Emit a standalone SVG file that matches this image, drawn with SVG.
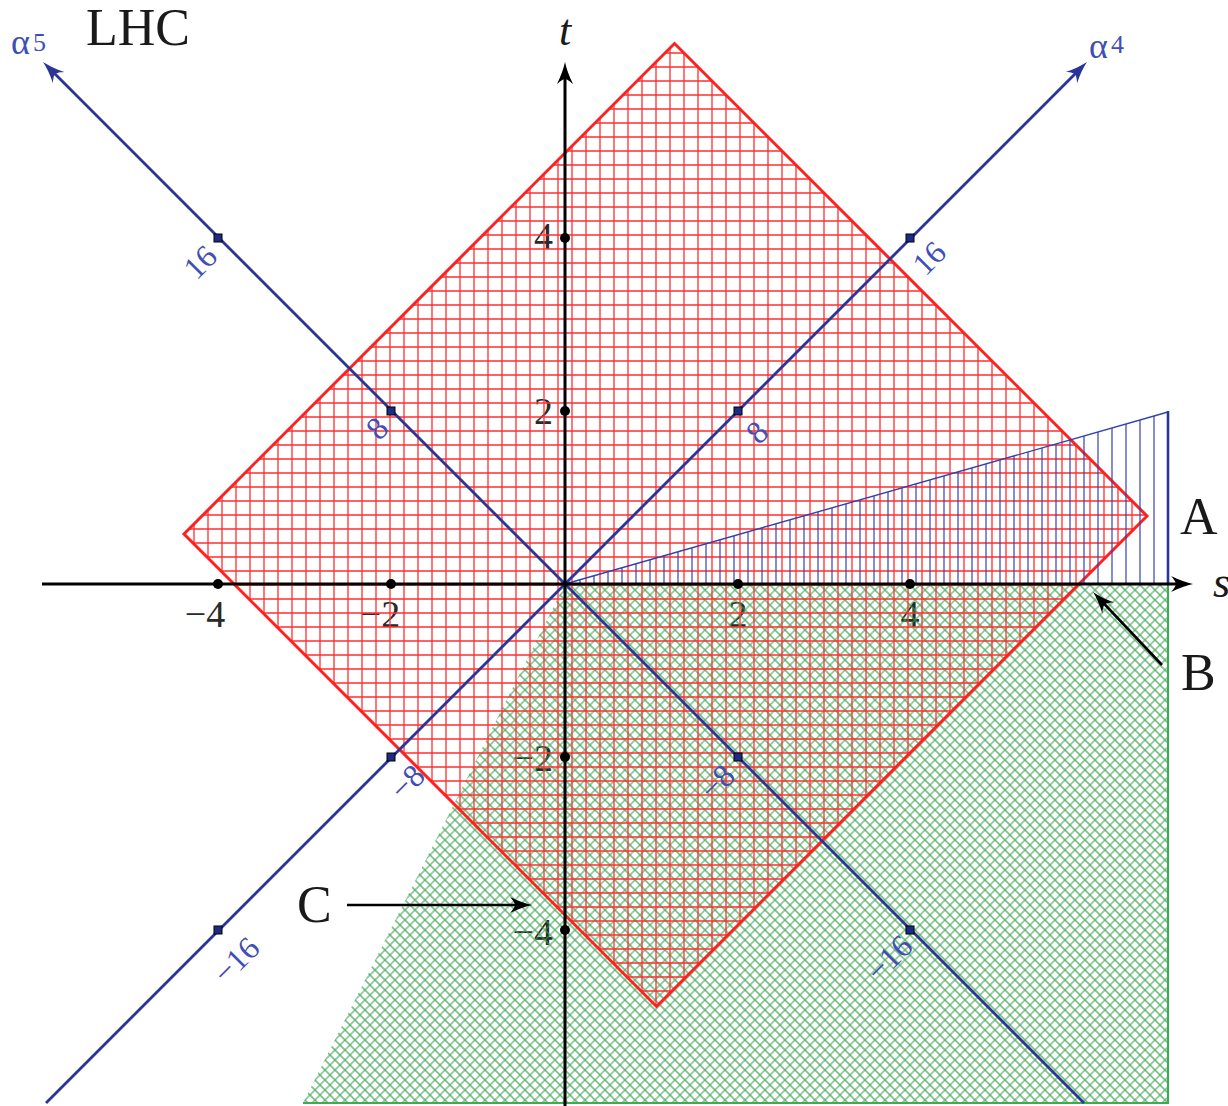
<svg xmlns="http://www.w3.org/2000/svg" width="1228" height="1106" viewBox="0 0 1228 1106">
<style>
.lbl{font-family:"Liberation Serif","Times New Roman",serif;fill:#1a1a1a}
.big{font-size:52px}
.tick{font-size:38px;fill:#2a2a2a}
.blab{font-family:"Liberation Serif","Times New Roman",serif;font-size:32px;fill:#3f4fb5;text-anchor:middle;dominant-baseline:central}
.ax{stroke:#000;stroke-width:3;fill:none}
.bax{stroke:#2b3596;stroke-width:2.8;fill:none}
.dot{fill:#000}
.bm{fill:#1e2a88;stroke:#000;stroke-width:1}
</style>
<defs>
<pattern id="redgrid" patternUnits="userSpaceOnUse" x="565" y="578" width="14" height="14">
<path d="M7,0 V14 M0,7 H14" stroke="#ff2e2e" stroke-width="1.3"/>
</pattern>
<pattern id="greenx" patternUnits="userSpaceOnUse" x="0" y="0" width="7.071" height="7.071" patternTransform="rotate(45)">
<path d="M3.535,0 V7.071 M0,3.535 H7.071" stroke="#2f9e45" stroke-width="1.15" opacity="0.85"/>
</pattern>
<pattern id="bluev" patternUnits="userSpaceOnUse" x="559" y="0" width="14" height="20">
<path d="M7,0 V20" stroke="#3340b0" stroke-width="1.2"/>
</pattern>
<marker id="ak" viewBox="-12 -9 24 18" refX="0" refY="0" markerWidth="24" markerHeight="18" markerUnits="userSpaceOnUse" orient="auto">
<path d="M11,0 C5,-1.2 -3,-4 -11,-8 C-7,-3.5 -6,-1.2 -6,0 C-6,1.2 -7,3.5 -11,8 C-3,4 5,1.2 11,0 Z" fill="#000"/>
</marker>
<marker id="ab" viewBox="-12 -9 24 18" refX="0" refY="0" markerWidth="24" markerHeight="18" markerUnits="userSpaceOnUse" orient="auto">
<path d="M11,0 C5,-1.2 -3,-4 -11,-8 C-7,-3.5 -6,-1.2 -6,0 C-6,1.2 -7,3.5 -11,8 C-3,4 5,1.2 11,0 Z" fill="#2b3596"/>
</marker>
</defs>
<rect width="1228" height="1106" fill="#fff"/>

<g id="tick-labels" class="lbl tick">
<text x="205" y="627" text-anchor="middle">−4</text>
<text x="380" y="627" text-anchor="middle">−2</text>
<text x="738" y="627" text-anchor="middle">2</text>
<text x="910" y="627" text-anchor="middle">4</text>
<text x="553" y="249" text-anchor="end">4</text>
<text x="553" y="424" text-anchor="end">2</text>
<text x="553" y="771" text-anchor="end">−2</text>
<text x="553" y="945" text-anchor="end">−4</text>
</g>

<g id="region-C">
<polygon points="565,584 1168,584 1168,1103 303,1103" fill="url(#greenx)"/>
<path d="M1168,584 V1103 H303" fill="none" stroke="#3fab50" stroke-width="2"/>
</g>

<g id="region-red">
<polygon points="674.5,43.5 1147,516 656.5,1006.5 184,534" fill="url(#redgrid)" stroke="#ff2020" stroke-width="3" stroke-linejoin="miter"/>
</g>

<g id="region-A">
<polygon points="565,584 1168,412 1168,584" fill="url(#bluev)"/>
<line x1="565" y1="584" x2="1168" y2="412" stroke="#3340b0" stroke-width="1.4"/>
<line x1="1168" y1="411" x2="1168" y2="584" stroke="#2b3596" stroke-width="2.6"/>
</g>

<g id="connectors">
<line class="bax" x1="46" y1="1103" x2="1079.2" y2="69.8" marker-end="url(#ab)"/>
<line class="bax" x1="1084" y1="1103" x2="50.8" y2="69.8" marker-end="url(#ab)"/>
<line class="ax" x1="42" y1="584" x2="1182" y2="584" marker-end="url(#ak)"/>
<line class="ax" x1="565" y1="1106" x2="565" y2="73" marker-end="url(#ak)"/>
<line x1="347" y1="905" x2="521" y2="905" stroke="#000" stroke-width="2.6" marker-end="url(#ak)"/>
<line x1="1162" y1="665" x2="1100.6" y2="600" stroke="#000" stroke-width="2.6" marker-end="url(#ak)"/>
</g>

<g id="axis-dots">
<circle class="dot" cx="218" cy="584" r="5"/>
<circle class="dot" cx="391" cy="584" r="5"/>
<circle class="dot" cx="738" cy="584" r="5"/>
<circle class="dot" cx="910" cy="584" r="5"/>
<circle class="dot" cx="565" cy="238" r="5"/>
<circle class="dot" cx="565" cy="411" r="5"/>
<circle class="dot" cx="565" cy="757" r="5"/>
<circle class="dot" cx="565" cy="930" r="5"/>
</g>

<g id="alpha-ticks">
<rect class="bm" x="734" y="407" width="8" height="8"/>
<rect class="bm" x="906" y="234" width="8" height="8"/>
<rect class="bm" x="387" y="753" width="8" height="8"/>
<rect class="bm" x="214" y="926" width="8" height="8"/>
<rect class="bm" x="214" y="234" width="8" height="8"/>
<rect class="bm" x="387" y="407" width="8" height="8"/>
<rect class="bm" x="734" y="753" width="8" height="8"/>
<rect class="bm" x="906" y="926" width="8" height="8"/>
</g>

<g id="alpha-labels">
<text class="blab" transform="translate(200,262) rotate(-45)">16</text>
<text class="blab" transform="translate(929,258) rotate(-45)">16</text>
<text class="blab" transform="translate(377,428) rotate(-45)">8</text>
<text class="blab" transform="translate(757,432) rotate(-45)">8</text>
<text class="blab" transform="translate(407,782) rotate(-45)">−8</text>
<text class="blab" transform="translate(717,782) rotate(-45)">−8</text>
<text class="blab" transform="translate(236,960) rotate(-45)">−16</text>
<text class="blab" transform="translate(889,958) rotate(-45)">−16</text>
</g>

<g id="axis-names">
<text class="lbl" x="11" y="54" font-size="36" style="fill:#3f4fb5">α<tspan font-size="26" dx="3" dy="-3">5</tspan></text>
<text class="lbl" x="1089" y="58" font-size="36" style="fill:#3f4fb5">α<tspan font-size="26" dx="3" dy="-5">4</tspan></text>
<text class="lbl" x="559" y="45" font-size="44" font-style="italic">t</text>
<text class="lbl" x="1213" y="597" font-size="44" font-style="italic">s</text>
</g>

<g id="letters" class="lbl big">
<text x="86" y="45">LHC</text>
<text x="1180" y="534">A</text>
<text x="1181" y="690">B</text>
<text x="297" y="922">C</text>
</g>
</svg>
